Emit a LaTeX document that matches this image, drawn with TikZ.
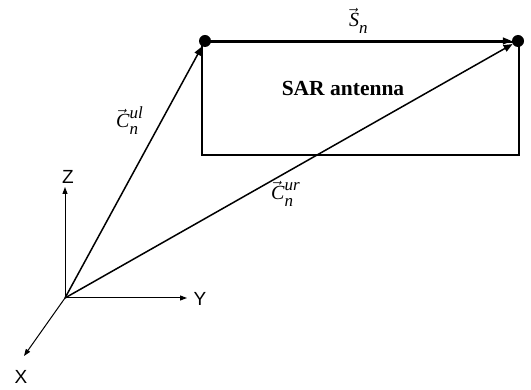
\documentclass[tikz,border=0pt]{standalone}
\usepackage{mathptmx}
\usepackage{fontspec}
\setmainfont{Liberation Serif}
\newfontfamily\axfont{Liberation Sans}
\usetikzlibrary{arrows.meta}
\newcommand{\vlab}[3]{$\vec{\mbox{\itshape #1}}$\rlap{\raisebox{9pt}{\fontsize{17}{17}\selectfont\itshape #2}}\raisebox{-7pt}{\fontsize{17}{17}\selectfont\itshape #3}\phantom{\fontsize{17}{17}\selectfont\itshape #2}}
\begin{document}
\begin{tikzpicture}[x=1pt,y=-1pt,
  vec/.style={line width=1.5pt,-{Triangle[length=9pt,width=7pt]}},
  axis/.style={line width=1pt,-{Triangle[length=7pt,width=5pt]}},
  dotnode/.style={circle,fill=black,inner sep=0pt,minimum size=12pt},
  axlabel/.style={font=\axfont\fontsize{19}{19}\selectfont,inner sep=0pt},
  mlabel/.style={font=\fontsize{20}{20}\selectfont,inner sep=0pt}]
\useasboundingbox (0,0) rectangle (531,390);
\coordinate (O) at (65,298);
\coordinate (Zt) at (65,187);
\coordinate (Yt) at (187,298);
\coordinate (Xt) at (24,356);
\draw[line width=2pt] (202,42) rectangle (519,155);
\node[dotnode] (ul) at (205,41) {};
\node[dotnode] (ur) at (518,41) {};
\draw[axis] (O) -- (Zt);
\draw[axis] (O) -- (Yt);
\draw[axis] (O) -- (Xt);
\draw[vec] (O) -- (ul);
\draw[vec] (O) -- (ur);
\draw[vec] (ul) -- (ur);
\node[axlabel] (Zl) at (68,177) {Z};
\node[axlabel] (Yl) at (200,299) {Y};
\node[axlabel] (Xl) at (21,377) {X};
\node[font=\bfseries\fontsize{21.5}{21.5}\selectfont,inner sep=0pt] (sar) at (343,88) {SAR antenna};
\node[mlabel,anchor=base west] (Cul) at (116,128) {\vlab{C}{ul}{n}};
\node[mlabel,anchor=base west] (Cur) at (271,200) {\vlab{C}{ur}{n}};
\node[mlabel,anchor=base west] (Sn) at (349,27) {\vlab{S}{}{n}};
\end{tikzpicture}
\end{document}
